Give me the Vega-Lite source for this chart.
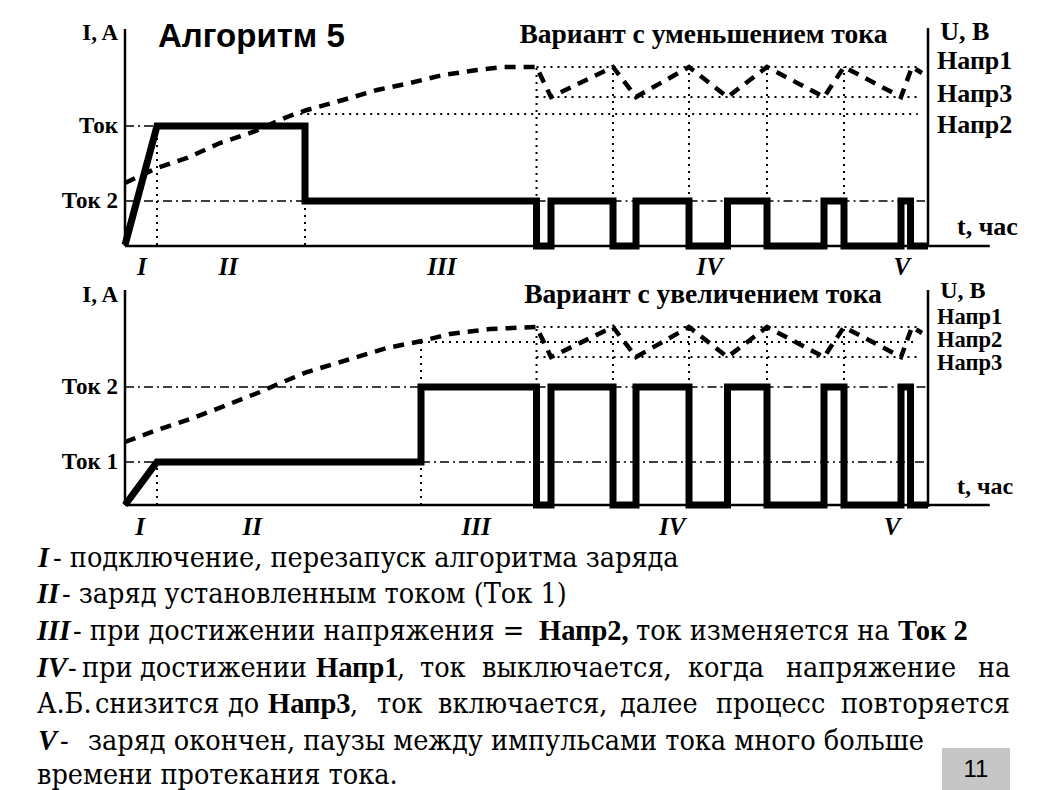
{
  "$schema": "https://vega.github.io/schema/vega-lite/v6.json",
  "padding": 0,
  "spacing": 0,
  "bounds": "flush",
  "background": "white",
  "config": {"view": {"stroke": null}, "font": "Liberation Serif"},
  "datasets": {
    "top_axes": [
      {"t": 0, "t2": 0, "v": -0.5, "v2": 108},
      {"t": 100.375, "t2": 100.375, "v": -0.5, "v2": 108.5},
      {"t": 0, "t2": 108.1, "v": -0.5, "v2": -0.5}
    ],
    "top_dots": [
      {"t": 4, "t2": 4, "v": 0, "v2": 59.5},
      {"t": 22.5, "t2": 22.5, "v": 0, "v2": 22},
      {"t": 51.44, "t2": 51.44, "v": 0, "v2": 89},
      {"t": 61, "t2": 61, "v": 22, "v2": 89},
      {"t": 70.5, "t2": 70.5, "v": 22, "v2": 89},
      {"t": 80.25, "t2": 80.25, "v": 22, "v2": 89},
      {"t": 89.875, "t2": 89.875, "v": 22, "v2": 89},
      {"t": 51.44, "t2": 99.1, "v": 89, "v2": 89},
      {"t": 51.44, "t2": 99.1, "v": 74, "v2": 74},
      {"t": 21.9, "t2": 99.1, "v": 65.5, "v2": 65.5}
    ],
    "top_dd": [
      {"t": 0, "t2": 4, "v": 59.5, "v2": 59.5},
      {"t": 0, "t2": 22.5, "v": 22, "v2": 22},
      {"t": 51.44, "t2": 100, "v": 22, "v2": 22}
    ],
    "top_u": [
      {"i": 0, "t": 0, "v": 31}, {"i": 1, "t": 4, "v": 38.5}, {"i": 2, "t": 7.75, "v": 43.5},
      {"i": 3, "t": 11.875, "v": 51}, {"i": 4, "t": 16, "v": 56.5}, {"i": 5, "t": 20.25, "v": 64},
      {"i": 6, "t": 22.75, "v": 67.5}, {"i": 7, "t": 27.25, "v": 72.5}, {"i": 8, "t": 31.5, "v": 77.5},
      {"i": 9, "t": 35.625, "v": 81}, {"i": 10, "t": 39.75, "v": 85}, {"i": 11, "t": 44, "v": 87.5},
      {"i": 12, "t": 47.25, "v": 89}, {"i": 13, "t": 51.44, "v": 89}, {"i": 14, "t": 53.25, "v": 74},
      {"i": 15, "t": 61, "v": 89}, {"i": 16, "t": 63.875, "v": 74}, {"i": 17, "t": 70.5, "v": 89},
      {"i": 18, "t": 75.31, "v": 74}, {"i": 19, "t": 80.25, "v": 89}, {"i": 20, "t": 87.375, "v": 74},
      {"i": 21, "t": 89.875, "v": 89}, {"i": 22, "t": 97, "v": 74}, {"i": 23, "t": 98.375, "v": 89},
      {"i": 24, "t": 99.625, "v": 86}
    ],
    "top_i": [
      {"i": 0, "t": 0, "v": 0}, {"i": 1, "t": 4, "v": 59.5}, {"i": 2, "t": 22.5, "v": 59.5},
      {"i": 3, "t": 22.5, "v": 22}, {"i": 4, "t": 51.44, "v": 22}, {"i": 5, "t": 51.44, "v": -0.5},
      {"i": 6, "t": 53.25, "v": -0.5}, {"i": 7, "t": 53.25, "v": 22}, {"i": 8, "t": 61, "v": 22},
      {"i": 9, "t": 61, "v": -0.5}, {"i": 10, "t": 63.875, "v": -0.5}, {"i": 11, "t": 63.875, "v": 22},
      {"i": 12, "t": 70.5, "v": 22}, {"i": 13, "t": 70.5, "v": -0.5}, {"i": 14, "t": 75.31, "v": -0.5},
      {"i": 15, "t": 75.31, "v": 22}, {"i": 16, "t": 80.25, "v": 22}, {"i": 17, "t": 80.25, "v": -0.5},
      {"i": 18, "t": 87.375, "v": -0.5}, {"i": 19, "t": 87.375, "v": 22}, {"i": 20, "t": 89.875, "v": 22},
      {"i": 21, "t": 89.875, "v": -0.5}, {"i": 22, "t": 97, "v": -0.5}, {"i": 23, "t": 97, "v": 22},
      {"i": 24, "t": 98.19, "v": 22}, {"i": 25, "t": 98.19, "v": -0.5}, {"i": 26, "t": 100.375, "v": -0.5}
    ],
    "top_labels": [
      {"t": -0.875, "v": 106, "s": "I, A", "k": "left"},
      {"t": -0.875, "v": 59.5, "s": "Ток", "k": "left"},
      {"t": -0.875, "v": 22, "s": "Ток 2", "k": "left"},
      {"t": 101.9, "v": 106.5, "s": "U, B", "k": "right"},
      {"t": 101.5, "v": 92, "s": "Напр1", "k": "right"},
      {"t": 101.5, "v": 75.5, "s": "Напр3", "k": "right"},
      {"t": 101.5, "v": 60, "s": "Напр2", "k": "right"},
      {"t": 104, "v": 9, "s": "t, час", "k": "right"},
      {"t": 72.3, "v": 105, "s": "Вариант с уменьшением тока", "k": "sub"},
      {"t": 4.125, "v": 104, "s": "Алгоритм 5", "k": "title"},
      {"t": 2.1, "v": -11, "s": "I", "k": "phase"},
      {"t": 12.9, "v": -11, "s": "II", "k": "phase"},
      {"t": 39.6, "v": -11, "s": "III", "k": "phase"},
      {"t": 73.1, "v": -11, "s": "IV", "k": "phase"},
      {"t": 97.1, "v": -11, "s": "V", "k": "phase"}
    ],
    "bot_axes": [
      {"t": 0, "t2": 0, "v": 0, "v2": 107.5},
      {"t": 100.375, "t2": 100.375, "v": -1, "v2": 107.5},
      {"t": 0, "t2": 108.1, "v": 0, "v2": 0}
    ],
    "bot_dots": [
      {"t": 4, "t2": 4, "v": 0, "v2": 21.5},
      {"t": 37, "t2": 37, "v": 0, "v2": 81.5},
      {"t": 51.44, "t2": 51.44, "v": 59, "v2": 89},
      {"t": 61, "t2": 61, "v": 59, "v2": 89},
      {"t": 70.5, "t2": 70.5, "v": 59, "v2": 89},
      {"t": 80.25, "t2": 80.25, "v": 59, "v2": 89},
      {"t": 89.875, "t2": 89.875, "v": 59, "v2": 89},
      {"t": 51.44, "t2": 99.1, "v": 89, "v2": 89},
      {"t": 37, "t2": 99.1, "v": 81.5, "v2": 81.5},
      {"t": 51.44, "t2": 99.1, "v": 74, "v2": 74}
    ],
    "bot_dd": [
      {"t": 0, "t2": 4, "v": 21.5, "v2": 21.5},
      {"t": 37, "t2": 100.375, "v": 21.5, "v2": 21.5},
      {"t": 0, "t2": 37, "v": 59, "v2": 59},
      {"t": 51.44, "t2": 100.375, "v": 59, "v2": 59}
    ],
    "bot_u": [
      {"i": 0, "t": 0, "v": 31.5}, {"i": 1, "t": 4, "v": 37.5}, {"i": 2, "t": 8.5, "v": 43.5},
      {"i": 3, "t": 12.75, "v": 50}, {"i": 4, "t": 16.875, "v": 56.5}, {"i": 5, "t": 19.75, "v": 61.5},
      {"i": 6, "t": 22.75, "v": 66.5}, {"i": 7, "t": 27.75, "v": 72.5}, {"i": 8, "t": 32.75, "v": 78.5},
      {"i": 9, "t": 37.1, "v": 82}, {"i": 10, "t": 40.6, "v": 85.5}, {"i": 11, "t": 45.6, "v": 88},
      {"i": 12, "t": 51.44, "v": 89}, {"i": 13, "t": 53.25, "v": 74},
      {"i": 14, "t": 61, "v": 89}, {"i": 15, "t": 63.875, "v": 74}, {"i": 16, "t": 70.5, "v": 89},
      {"i": 17, "t": 75.31, "v": 74}, {"i": 18, "t": 80.25, "v": 89}, {"i": 19, "t": 87.375, "v": 74},
      {"i": 20, "t": 89.875, "v": 89}, {"i": 21, "t": 97, "v": 74}, {"i": 22, "t": 98.375, "v": 89},
      {"i": 23, "t": 99.625, "v": 86}
    ],
    "bot_i": [
      {"i": 0, "t": 0, "v": 0}, {"i": 1, "t": 4, "v": 21.5}, {"i": 2, "t": 37, "v": 21.5},
      {"i": 3, "t": 37, "v": 59}, {"i": 4, "t": 51.44, "v": 59}, {"i": 5, "t": 51.44, "v": 0},
      {"i": 6, "t": 53.25, "v": 0}, {"i": 7, "t": 53.25, "v": 59}, {"i": 8, "t": 61, "v": 59},
      {"i": 9, "t": 61, "v": 0}, {"i": 10, "t": 63.875, "v": 0}, {"i": 11, "t": 63.875, "v": 59},
      {"i": 12, "t": 70.5, "v": 59}, {"i": 13, "t": 70.5, "v": 0}, {"i": 14, "t": 75.31, "v": 0},
      {"i": 15, "t": 75.31, "v": 59}, {"i": 16, "t": 80.25, "v": 59}, {"i": 17, "t": 80.25, "v": 0},
      {"i": 18, "t": 87.375, "v": 0}, {"i": 19, "t": 87.375, "v": 59}, {"i": 20, "t": 89.875, "v": 59},
      {"i": 21, "t": 89.875, "v": 0}, {"i": 22, "t": 97, "v": 0}, {"i": 23, "t": 97, "v": 59},
      {"i": 24, "t": 98.19, "v": 59}, {"i": 25, "t": 98.19, "v": 0}, {"i": 26, "t": 100.375, "v": 0}
    ],
    "bot_labels": [
      {"t": -0.875, "v": 105, "s": "I, A", "k": "left"},
      {"t": -0.875, "v": 59, "s": "Ток 2", "k": "left"},
      {"t": -0.875, "v": 21.5, "s": "Ток 1", "k": "left"},
      {"t": 101.9, "v": 107.25, "s": "U, B", "k": "right"},
      {"t": 101.5, "v": 94.25, "s": "Напр1", "k": "right2"},
      {"t": 101.5, "v": 82.75, "s": "Напр2", "k": "right2"},
      {"t": 101.5, "v": 71, "s": "Напр3", "k": "right2"},
      {"t": 104, "v": 9, "s": "t, час", "k": "right"},
      {"t": 72.25, "v": 105, "s": "Вариант с увеличением тока", "k": "sub"},
      {"t": 1.9, "v": -11, "s": "I", "k": "phase"},
      {"t": 15.9, "v": -11, "s": "II", "k": "phase"},
      {"t": 43.9, "v": -11, "s": "III", "k": "phase"},
      {"t": 68.4, "v": -11, "s": "IV", "k": "phase"},
      {"t": 95.9, "v": -11, "s": "V", "k": "phase"}
    ],
    "legend": [
      {"n": 1, "x": 38, "s": "I", "k": "num"},
      {"n": 1, "x": 53, "s": "- подключение, перезапуск алгоритма заряда", "k": "reg"},
      {"n": 2, "x": 37, "s": "II", "k": "num"},
      {"n": 2, "x": 62, "s": "- заряд установленным током (Ток 1)", "k": "reg"},
      {"n": 3, "x": 37, "s": "III", "k": "num"},
      {"n": 3, "x": 73, "s": "- при достижении напряжения =", "k": "reg"},
      {"n": 3, "x": 539, "s": "Напр2,", "k": "bold"},
      {"n": 3, "x": 636, "s": "ток изменяется на", "k": "reg"},
      {"n": 3, "x": 898, "s": "Ток 2", "k": "bold"},
      {"n": 4, "x": 37, "s": "IV", "k": "num"},
      {"n": 4, "x": 68, "s": "-", "k": "reg"},
      {"n": 4, "x": 82, "s": "при", "k": "reg"},
      {"n": 4, "x": 140, "s": "достижении", "k": "reg"},
      {"n": 4, "x": 316, "s": "Напр1", "k": "bold"},
      {"n": 4, "x": 397, "s": ",", "k": "reg"},
      {"n": 4, "x": 420, "s": "ток", "k": "reg"},
      {"n": 4, "x": 482, "s": "выключается,", "k": "reg"},
      {"n": 4, "x": 688, "s": "когда", "k": "reg"},
      {"n": 4, "x": 786, "s": "напряжение", "k": "reg"},
      {"n": 4, "x": 978, "s": "на", "k": "reg"},
      {"n": 5, "x": 37, "s": "А.Б.", "k": "reg"},
      {"n": 5, "x": 95, "s": "снизится", "k": "reg"},
      {"n": 5, "x": 228, "s": "до", "k": "reg"},
      {"n": 5, "x": 268, "s": "Напр3", "k": "bold"},
      {"n": 5, "x": 350, "s": ",", "k": "reg"},
      {"n": 5, "x": 377, "s": "ток", "k": "reg"},
      {"n": 5, "x": 438, "s": "включается,", "k": "reg"},
      {"n": 5, "x": 620, "s": "далее", "k": "reg"},
      {"n": 5, "x": 716, "s": "процесс", "k": "reg"},
      {"n": 5, "x": 841, "s": "повторяется", "k": "reg"},
      {"n": 6, "x": 38, "s": "V", "k": "num"},
      {"n": 6, "x": 60, "s": "-", "k": "reg"},
      {"n": 6, "x": 88, "s": "заряд окончен, паузы между импульсами тока много больше", "k": "reg"},
      {"n": 6.95, "x": 37, "s": "времени протекания тока.", "k": "reg"},
      {"n": 6.81, "x": 976, "s": "11", "k": "page"}
    ],
    "box": [{"x": 942, "x2": 1010, "n": 6.205, "n2": 7.356}]
  },
  "vconcat": [
    {
      "width": 1057,
      "height": 265,
      "encoding": {
        "x": {"field": "t", "type": "quantitative", "scale": {"domain": [-15.625, 116.5], "nice": false, "zero": false}, "axis": null},
        "y": {"field": "v", "type": "quantitative", "scale": {"domain": [-10, 122.5], "nice": false, "zero": false}, "axis": null}
      },
      "layer": [
        {"data": {"name": "top_axes"}, "mark": {"type": "rule", "color": "black", "strokeWidth": 2.5}, "encoding": {"x2": {"field": "t2"}, "y2": {"field": "v2"}}},
        {"data": {"name": "top_dots"}, "mark": {"type": "rule", "color": "black", "strokeWidth": 2, "strokeDash": [2, 5]}, "encoding": {"x2": {"field": "t2"}, "y2": {"field": "v2"}}},
        {"data": {"name": "top_dd"}, "mark": {"type": "rule", "color": "black", "strokeWidth": 1.5, "strokeDash": [9, 4, 2, 4]}, "encoding": {"x2": {"field": "t2"}, "y2": {"field": "v2"}}},
        {"data": {"name": "top_u"}, "mark": {"type": "line", "color": "black", "strokeWidth": 4.5, "strokeDash": [11, 8]}, "encoding": {"order": {"field": "i"}}},
        {"data": {"name": "top_i"}, "mark": {"type": "line", "color": "black", "strokeWidth": 7, "strokeJoin": "miter"}, "encoding": {"order": {"field": "i"}}},
        {"data": {"name": "top_labels"}, "transform": [{"filter": "datum.k === 'left'"}], "mark": {"type": "text", "font": "Liberation Serif", "align": "right", "baseline": "middle", "fontWeight": "bold", "fontSize": 23}, "encoding": {"text": {"field": "s"}}},
        {"data": {"name": "top_labels"}, "transform": [{"filter": "datum.k === 'right'"}], "mark": {"type": "text", "font": "Liberation Serif", "align": "left", "baseline": "middle", "fontWeight": "bold", "fontSize": 26}, "encoding": {"text": {"field": "s"}}},
        {"data": {"name": "top_labels"}, "transform": [{"filter": "datum.k === 'sub'"}], "mark": {"type": "text", "font": "Liberation Serif", "align": "center", "baseline": "middle", "fontWeight": "bold", "fontSize": 27.5}, "encoding": {"text": {"field": "s"}}},
        {"data": {"name": "top_labels"}, "transform": [{"filter": "datum.k === 'title'"}], "mark": {"type": "text", "align": "left", "baseline": "middle", "fontWeight": "bold", "fontSize": 33, "font": "Liberation Sans"}, "encoding": {"text": {"field": "s"}}},
        {"data": {"name": "top_labels"}, "transform": [{"filter": "datum.k === 'phase'"}], "mark": {"type": "text", "font": "Liberation Serif", "align": "center", "baseline": "middle", "fontWeight": "bold", "fontStyle": "italic", "fontSize": 25}, "encoding": {"text": {"field": "s"}}}
      ]
    },
    {
      "width": 1057,
      "height": 275,
      "encoding": {
        "x": {"field": "t", "type": "quantitative", "scale": {"domain": [-15.625, 116.5], "nice": false, "zero": false}, "axis": null},
        "y": {"field": "v", "type": "quantitative", "scale": {"domain": [-17.5, 120], "nice": false, "zero": false}, "axis": null}
      },
      "layer": [
        {"data": {"name": "bot_axes"}, "mark": {"type": "rule", "color": "black", "strokeWidth": 2.5}, "encoding": {"x2": {"field": "t2"}, "y2": {"field": "v2"}}},
        {"data": {"name": "bot_dots"}, "mark": {"type": "rule", "color": "black", "strokeWidth": 2, "strokeDash": [2, 5]}, "encoding": {"x2": {"field": "t2"}, "y2": {"field": "v2"}}},
        {"data": {"name": "bot_dd"}, "mark": {"type": "rule", "color": "black", "strokeWidth": 1.5, "strokeDash": [9, 4, 2, 4]}, "encoding": {"x2": {"field": "t2"}, "y2": {"field": "v2"}}},
        {"data": {"name": "bot_u"}, "mark": {"type": "line", "color": "black", "strokeWidth": 4.5, "strokeDash": [11, 8]}, "encoding": {"order": {"field": "i"}}},
        {"data": {"name": "bot_i"}, "mark": {"type": "line", "color": "black", "strokeWidth": 7, "strokeJoin": "miter"}, "encoding": {"order": {"field": "i"}}},
        {"data": {"name": "bot_labels"}, "transform": [{"filter": "datum.k === 'left'"}], "mark": {"type": "text", "font": "Liberation Serif", "align": "right", "baseline": "middle", "fontWeight": "bold", "fontSize": 23}, "encoding": {"text": {"field": "s"}}},
        {"data": {"name": "bot_labels"}, "transform": [{"filter": "datum.k === 'right'"}], "mark": {"type": "text", "font": "Liberation Serif", "align": "left", "baseline": "middle", "fontWeight": "bold", "fontSize": 24}, "encoding": {"text": {"field": "s"}}},
        {"data": {"name": "bot_labels"}, "transform": [{"filter": "datum.k === 'right2'"}], "mark": {"type": "text", "font": "Liberation Serif", "align": "left", "baseline": "middle", "fontWeight": "bold", "fontSize": 22.5}, "encoding": {"text": {"field": "s"}}},
        {"data": {"name": "bot_labels"}, "transform": [{"filter": "datum.k === 'sub'"}], "mark": {"type": "text", "font": "Liberation Serif", "align": "center", "baseline": "middle", "fontWeight": "bold", "fontSize": 27.5}, "encoding": {"text": {"field": "s"}}},
        {"data": {"name": "bot_labels"}, "transform": [{"filter": "datum.k === 'phase'"}], "mark": {"type": "text", "font": "Liberation Serif", "align": "center", "baseline": "middle", "fontWeight": "bold", "fontStyle": "italic", "fontSize": 25}, "encoding": {"text": {"field": "s"}}}
      ]
    },
    {
      "width": 1057,
      "height": 250,
      "encoding": {
        "x": {"field": "x", "type": "quantitative", "scale": {"domain": [0, 1057], "nice": false, "zero": false}, "axis": null},
        "y": {"field": "n", "type": "quantitative", "scale": {"domain": [0.507, 7.356], "nice": false, "zero": false, "reverse": true}, "axis": null}
      },
      "layer": [
        {"data": {"name": "box"}, "mark": {"type": "rect", "color": "#c6c6c6"}, "encoding": {"x2": {"field": "x2"}, "y2": {"field": "n2"}}},
        {"data": {"name": "legend"}, "transform": [{"filter": "datum.k === 'reg'"}], "mark": {"type": "text", "align": "left", "baseline": "middle", "fontSize": 28.5, "font": "DejaVu Serif Condensed"}, "encoding": {"text": {"field": "s"}}},
        {"data": {"name": "legend"}, "transform": [{"filter": "datum.k === 'bold'"}], "mark": {"type": "text", "align": "left", "baseline": "middle", "fontSize": 28.5, "fontWeight": "bold", "font": "Liberation Serif"}, "encoding": {"text": {"field": "s"}}},
        {"data": {"name": "legend"}, "transform": [{"filter": "datum.k === 'num'"}], "mark": {"type": "text", "align": "left", "baseline": "middle", "fontSize": 28.5, "fontWeight": "bold", "fontStyle": "italic", "font": "Liberation Serif"}, "encoding": {"text": {"field": "s"}}},
        {"data": {"name": "legend"}, "transform": [{"filter": "datum.k === 'page'"}], "mark": {"type": "text", "align": "center", "baseline": "middle", "fontSize": 24, "font": "Liberation Sans"}, "encoding": {"text": {"field": "s"}}}
      ]
    }
  ]
}
